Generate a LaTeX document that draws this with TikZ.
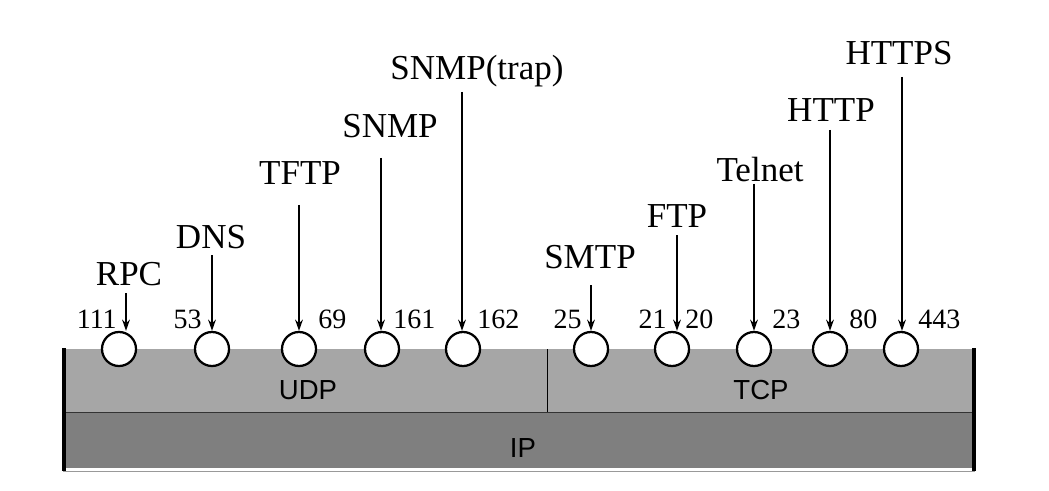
\documentclass[tikz,border=0pt]{standalone}
\usepackage{fontspec}
\setmainfont{Liberation Serif}
\setsansfont{Liberation Sans}
\usetikzlibrary{arrows.meta}
\definecolor{udpgray}{HTML}{A6A6A6}
\definecolor{ipgray}{HTML}{7F7F7F}

\begin{document}
\begin{tikzpicture}[x=0.025cm,y=-0.025cm,
    proto/.style={inner sep=0pt,anchor=base,font=\fontsize{24.9}{28}\selectfont},
    portnum/.style={inner sep=0pt,font=\fontsize{19.9}{24}\selectfont},
    layer/.style={inner sep=0pt,font=\sffamily\fontsize{19.6}{24}\selectfont},
    sap/.style={circle,draw,line width=1.6pt,fill=white,inner sep=0pt,minimum size=0.85cm},
    port/.style={-{Stealth[length=8pt,width=5.5pt]},line width=1.3pt}]
    \useasboundingbox (0,0) rectangle (1049,491);
    % layers
    \fill[udpgray] (63,349) rectangle (975,412);
    \fill[ipgray] (63,412) rectangle (975,470);
    \draw[gray!70,line width=0.7pt] (63,349) -- (975,349);
    \draw[black!80,line width=0.7pt] (63,412) -- (975,412);
    \draw[white,line width=1pt] (63,469) -- (975,469);
    \draw[gray!80,line width=0.7pt] (63,471) -- (975,471);
    \draw[line width=0.7pt] (547,349) -- (547,412);
    \draw[line width=2.2pt] (64,348) -- (64,471);
    \draw[line width=2.2pt] (974,348) -- (974,471);
    \node[layer] (udp) at (308,390) {UDP};
    \node[layer] (tcp) at (761,390) {TCP};
    \node[layer] (ip) at (523,448) {IP};
    % applications
    \foreach \n/\cx/\lx/\ly/\ax/\ay/\txt in {
        rpc/119/129/285/126/293/RPC,
        dns/212/211/248/212/255/DNS,
        tftp/299/300/185/299/205/TFTP,
        snmp/382/390/138/381/158/SNMP,
        trap/463/477/80/462/92/SNMP(trap),
        smtp/591/590/268/591/285/SMTP,
        ftp/672/677/227/677/235/FTP,
        telnet/754/760/182/754/184/Telnet,
        http/830/831/122/830/130/HTTP,
        https/901/899/65/902/77/HTTPS}
    {
        \node[sap] (c-\n) at (\cx,349) {};
        \node[proto] (l-\n) at (\lx,\ly) {\txt};
        \coordinate (a-\n) at (\ax,\ay);
        \draw[port] (a-\n) -- (a-\n |- c-\n.north);
    }
    % port numbers
    \foreach \n/\x/\side in {111/117/east,53/202/east,69/318/west,161/393/west,
        162/477/west,25/582/east,21/667/east,20/685/west,23/772/west,
        80/849/west,443/918/west}
        \node[portnum,anchor=base \side] (p-\n) at (\x,328) {\n};
\end{tikzpicture}
\end{document}
